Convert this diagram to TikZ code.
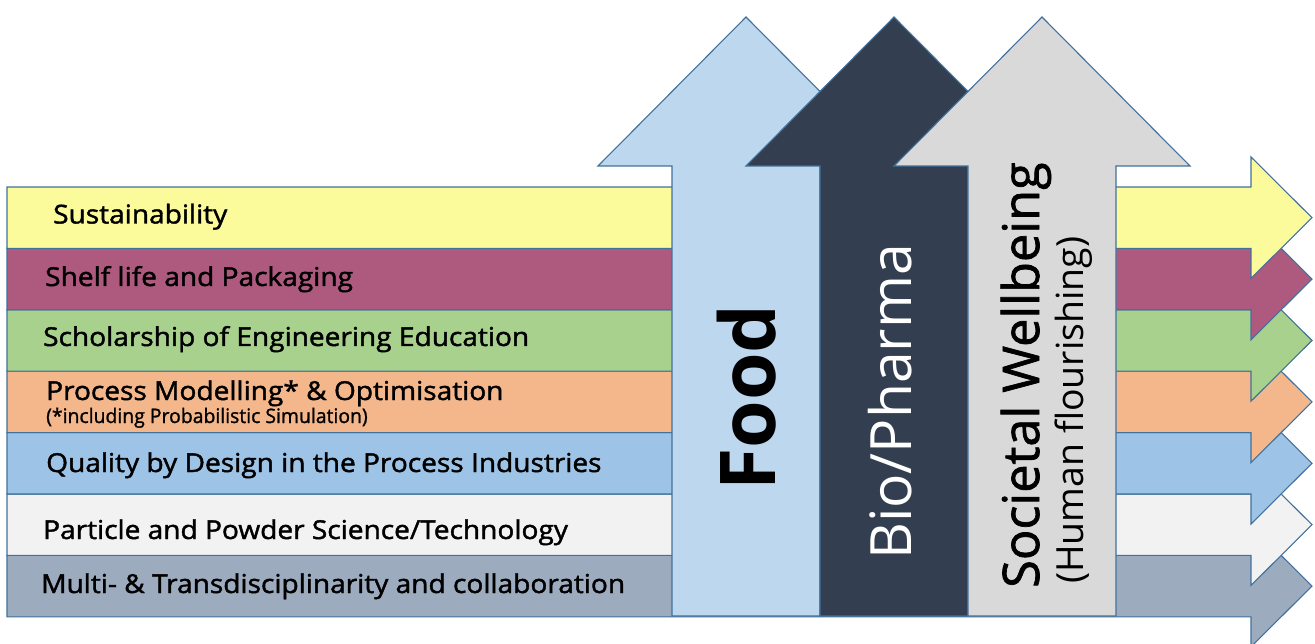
\documentclass[tikz,border=0pt]{standalone}
\usepackage{fontspec}
\setmainfont{Open Sans}
\newfontfamily\labelfont{Open Sans}[FakeStretch=1.08,FakeBold=1.6]
\newfontfamily\subfont{Open Sans}[FakeStretch=0.97,FakeBold=1.2]
\newfontfamily\vfont{Open Sans}[FakeBold=1.4]
\definecolor{edge}{HTML}{41719C}
\definecolor{cyel}{HTML}{FBFB9B}
\definecolor{cmag}{HTML}{AD5A7E}
\definecolor{cgrn}{HTML}{A9D18E}
\definecolor{corg}{HTML}{F4B78C}
\definecolor{cblu}{HTML}{9DC3E6}
\definecolor{cwht}{HTML}{F2F2F2}
\definecolor{cgry}{HTML}{9DABBF}
\definecolor{cfood}{HTML}{BDD7EE}
\definecolor{cbio}{HTML}{333F50}
\definecolor{csoc}{HTML}{D9D9D9}
\begin{document}
\begin{tikzpicture}[x=1pt,y=-1pt,
  arrowshape/.style={draw=edge,line width=1.1pt,line join=miter},
  barlabel/.style={anchor=base west,inner sep=0pt,font=\labelfont\fontsize{26}{30}\selectfont},
  vlabel/.style={rotate=90,anchor=base west,inner sep=0pt}]
\useasboundingbox (0,0) rectangle (1315,644);
\fill[white] (0,0) rectangle (1315,644);
% horizontal arrows, bottom to top
\foreach \t/\c in {555.4/cgry,494/cwht,432.6/cblu,371.2/corg,309.8/cgrn,248.4/cmag,187/cyel}{
  \pgfmathsetmacro{\b}{\t+61.4}
  \pgfmathsetmacro{\m}{\t+30.7}
  \filldraw[arrowshape,fill=\c] (7,\t) -- (1251,\t) -- (1251,\t-30) -- (1312,\m) -- (1251,\b+30) -- (1251,\b) -- (7,\b) -- cycle;
}
% vertical arrows
\filldraw[arrowshape,fill=cfood] (672,616) -- (672,166) -- (598,166) -- (746,17) -- (894,166) -- (820,166) -- (820,616) -- cycle;
\filldraw[arrowshape,fill=cbio] (820,616) -- (820,166) -- (746,166) -- (894,17) -- (1042,166) -- (968,166) -- (968,616) -- cycle;
\filldraw[arrowshape,fill=csoc] (968,616) -- (968,166) -- (894,166) -- (1042,17) -- (1190,166) -- (1116,166) -- (1116,616) -- cycle;
% bar labels
\node[barlabel] (l1) at (53,223.5) {Sustainability};
\node[barlabel] (l2) at (45,286) {Shelf life and Packaging};
\node[barlabel] (l3) at (43,346) {Scholarship of Engineering Education};
\node[barlabel] (l4) at (46,400) {Process Modelling* \& Optimisation};
\node[anchor=base west,inner sep=0pt,font=\subfont\fontsize{20}{24}\selectfont] (l4b) at (46,423) {(*including Probabilistic Simulation)};
\node[barlabel] (l5) at (46,472) {Quality by Design in the Process Industries};
\node[barlabel] (l6) at (43,539) {Particle and Powder Science/Technology};
\node[barlabel] (l7) at (41,593) {Multi- \& Transdisciplinarity and collaboration};
% vertical labels
\node[vlabel,font=\fontsize{77}{86}\selectfont\bfseries] (food) at (775,491) {Food};
\node[vlabel,text=white,font=\fontsize{57}{66}\selectfont] (bio) at (911,560) {Bio/Pharma};
\node[vlabel,font=\vfont\fontsize{50.5}{60}\selectfont] (soc) at (1039,588) {Societal Wellbeing};
\node[vlabel,font=\fontsize{37.4}{44}\selectfont] (hum) at (1083,584) {(Human flourishing)};
\end{tikzpicture}
\end{document}
